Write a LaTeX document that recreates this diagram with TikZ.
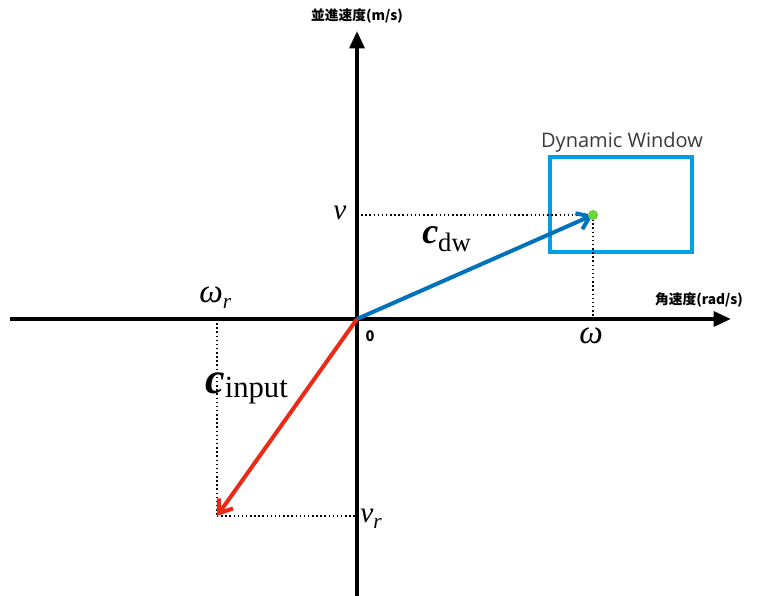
\documentclass[tikz,border=0pt]{standalone}
\usepackage{amsmath,amssymb}
\usepackage{fontspec}
\newfontfamily\jpfont{Noto Sans CJK JP}
\newfontfamily\dwfont{Open Sans}
\newfontfamily\tmfont{Liberation Serif}
\usetikzlibrary{arrows.meta,positioning}
\definecolor{azul}{HTML}{0072BC}
\definecolor{cian}{HTML}{00A0E9}
\definecolor{rojo}{HTML}{EA2A15}
\definecolor{verde}{HTML}{6CD53A}
\definecolor{gris}{HTML}{3A3A3A}
\newcommand{\symb}[1]{\fontsize{#1}{#1}\selectfont}
\tikzset{
  axis/.style={line width=3pt,-{Triangle[length=13pt,width=11pt]}},
  vec/.style={line width=3pt,-{Straight Barb[length=9pt,width=13pt,line width=3pt]}},
  guide/.style={line width=1.1pt,dotted},
  vlabel/.style={anchor=base west,inner sep=0pt,font=\tmfont\itshape\symb{22}},
}
\begin{document}
\begin{tikzpicture}[x=0.75pt,y=-0.75pt,>=Latex]
        \useasboundingbox (0,0) rectangle (758,596);
        % axes
        \coordinate (O)  at (357,319);
        \coordinate (xs) at (10,319);
        \coordinate (xe) at (731,319);
        \coordinate (ys) at (357,596);
        \coordinate (ye) at (357,31);
        \draw[axis] (xs) -- (xe);
        \draw[axis] (ys) -- (ye);
        \node[font=\jpfont\bfseries\symb{10.3}] (ylab) at (357,16) {並進速度(m/s)};
        \node[font=\jpfont\bfseries\symb{10.3}] (xlab) at (699,300) {角速度(rad/s)};
        \node[font=\jpfont\bfseries\symb{11}] (zero) at (370,336) {0};
        % dynamic window
        \draw[cian,line width=3pt] (550,157) rectangle (692,252);
        \node[gris,font=\dwfont\symb{15}] (dwlab) at (622,142) {Dynamic Window};
        % c_dw
        \coordinate (P)  at (593,215);
        \coordinate (Pv) at (357,215);
        \coordinate (Pw) at (593,319);
        \draw[guide] (Pv) -- (P);
        \draw[guide] (P) -- (Pw);
        \draw[vec,azul] (O) -- (P);
        \fill[verde] (P) circle (3.8pt);
        \node[vlabel] (v) at (333,219) {v};
        \node[vlabel,font=\tmfont\itshape\symb{25}] (w) at (579,343) {ω};
        \node[vlabel,font=\tmfont\bfseries\itshape\symb{27}] (cdw) at (422,243)
          {c\tmfont\mdseries\upshape\symb{20}\raisebox{-6.5pt}{dw}};
        % c_input
        \coordinate (R)  at (217,516);
        \coordinate (Rv) at (357,516);
        \coordinate (Rw) at (217,319);
        \draw[guide] (Rw) -- (R);
        \draw[guide] (R) -- (Rv);
        \draw[vec,rojo] (O) -- (R);
        \node[vlabel,font=\tmfont\itshape\symb{25}] (wr) at (199,302)
          {ω\symb{16}\raisebox{-5pt}{r}};
        \node[vlabel] (vr) at (360,522) {v\symb{16}\raisebox{-5pt}{r}};
        \node[vlabel,font=\tmfont\bfseries\itshape\symb{33}] (cin) at (205,393)
          {c\tmfont\mdseries\upshape\symb{23}\raisebox{-3.5pt}{input}};
      \end{tikzpicture}
\end{document}
